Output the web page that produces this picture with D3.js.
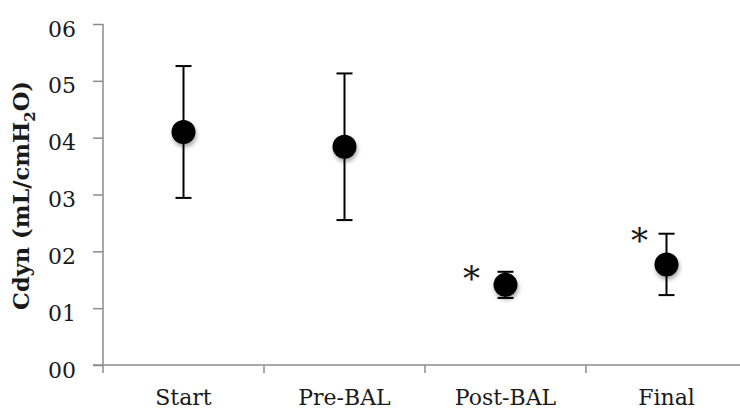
<!DOCTYPE html>
<html>
<head>
<meta charset="utf-8">
<script src="https://cdn.jsdelivr.net/npm/d3@7"></script>
<style>
  html, body { margin: 0; padding: 0; background: #fff; }
  svg { display: block; }
  text { font-family: "DejaVu Serif", serif; fill: #1a1a1a; }
</style>
</head>
<body>
<svg id="chart" width="740" height="409"></svg>
<script>
// Dynamic compliance per time point: mean and error (± SD)
const categories = ["Start", "Pre-BAL", "Post-BAL", "Final"];
const means = [0.410, 0.384, 0.141, 0.177];
const errors = [0.116, 0.129, 0.023, 0.054];
const significance = ["", "", "*", "*"];
const yTickValues = [0, 0.1, 0.2, 0.3, 0.4, 0.5, 0.6];
const yTickLabels = ["00", "01", "02", "03", "04", "05", "06"];

const svg = d3.select("#chart");
const W = 740, H = 409;
const plot = { left: 103, top: 24, bottom: 365, bandRight: 747 };

const x = d3.scaleBand().domain(categories).range([plot.left, plot.bandRight]).padding(0);
const y = d3.scaleLinear().domain([0, 0.6]).range([plot.bottom, plot.top]);

// soft drop shadow under the markers
const defs = svg.append("defs");
const f = defs.append("filter").attr("id", "shadow")
  .attr("x", "-50%").attr("y", "-50%").attr("width", "200%").attr("height", "200%");
f.append("feDropShadow").attr("dx", 1).attr("dy", 3).attr("stdDeviation", 2)
  .attr("flood-color", "#000").attr("flood-opacity", 0.35);

const axisColor = "#8c8c8c";

// y axis
const yAxis = svg.append("g").attr("transform", `translate(${plot.left},0)`)
  .call(d3.axisLeft(y).tickValues(yTickValues)
    .tickFormat((d, i) => yTickLabels[i]).tickSize(10).tickPadding(17));
yAxis.select(".domain").attr("stroke", axisColor).attr("stroke-width", 1.5)
  .attr("d", `M0,${plot.top}V${plot.bottom}`);
yAxis.selectAll(".tick line").attr("stroke", axisColor).attr("stroke-width", 1.5);
yAxis.selectAll(".tick text").attr("font-size", 22).attr("dy", "0.55em")
  .attr("fill", "#1a1a1a").style("font-family", "DejaVu Serif, serif");

// x axis: line runs to the right edge, ticks at band boundaries
const xg = svg.append("g").attr("transform", `translate(0,${plot.bottom})`);
xg.append("line").attr("x1", plot.left - 10).attr("x2", W)
  .attr("stroke", axisColor).attr("stroke-width", 1.5);
xg.selectAll("line.tk").data(categories).join("line").attr("class", "tk")
  .attr("x1", d => x(d)).attr("x2", d => x(d)).attr("y1", 0).attr("y2", 8)
  .attr("stroke", axisColor).attr("stroke-width", 1.5);
xg.selectAll("text.lbl").data(categories).join("text").attr("class", "lbl")
  .attr("x", d => x(d) + x.bandwidth() / 2).attr("y", 40)
  .attr("text-anchor", "middle").attr("font-size", 22).text(d => d);

// y axis title with subscript
const title = svg.append("text")
  .attr("transform", `translate(29,${(plot.top + plot.bottom) / 2 + 1}) rotate(-90)`)
  .attr("text-anchor", "middle").attr("font-size", 22.5).attr("font-weight", "bold");
title.append("tspan").text("Cdyn (mL/cmH");
title.append("tspan").attr("font-size", 15).attr("dy", 6).text("2");
title.append("tspan").attr("dy", -6).text("O)");

// error bars and markers
const data = categories.map((c, i) => ({ c, m: means[i], e: errors[i], s: significance[i] }));
const cx = d => x(d.c) + x.bandwidth() / 2;
const capHalf = 8;

const g = svg.append("g");
const eb = g.selectAll("g.eb").data(data).join("g").attr("class", "eb")
  .attr("stroke", "#000").attr("stroke-width", 2);
eb.append("line").attr("x1", cx).attr("x2", cx)
  .attr("y1", d => y(d.m + d.e)).attr("y2", d => y(d.m - d.e));
eb.append("line").attr("x1", d => cx(d) - capHalf).attr("x2", d => cx(d) + capHalf)
  .attr("y1", d => y(d.m + d.e)).attr("y2", d => y(d.m + d.e));
eb.append("line").attr("x1", d => cx(d) - capHalf).attr("x2", d => cx(d) + capHalf)
  .attr("y1", d => y(d.m - d.e)).attr("y2", d => y(d.m - d.e));

g.selectAll("circle").data(data).join("circle")
  .attr("cx", cx).attr("cy", d => y(d.m)).attr("r", 12)
  .attr("fill", "#000").attr("filter", "url(#shadow)");

// significance markers beside the upper error caps
const starDx = { "Post-BAL": -34, "Final": -27 };
g.selectAll("text.sig").data(data.filter(d => d.s)).join("text").attr("class", "sig")
  .attr("x", d => cx(d) + (starDx[d.c] || -30)).attr("y", d => y(d.m + d.e) + 18)
  .attr("text-anchor", "middle").attr("font-size", 34).attr("fill", "#1a1a1a")
  .text(d => d.s);
</script>
</body>
</html>
